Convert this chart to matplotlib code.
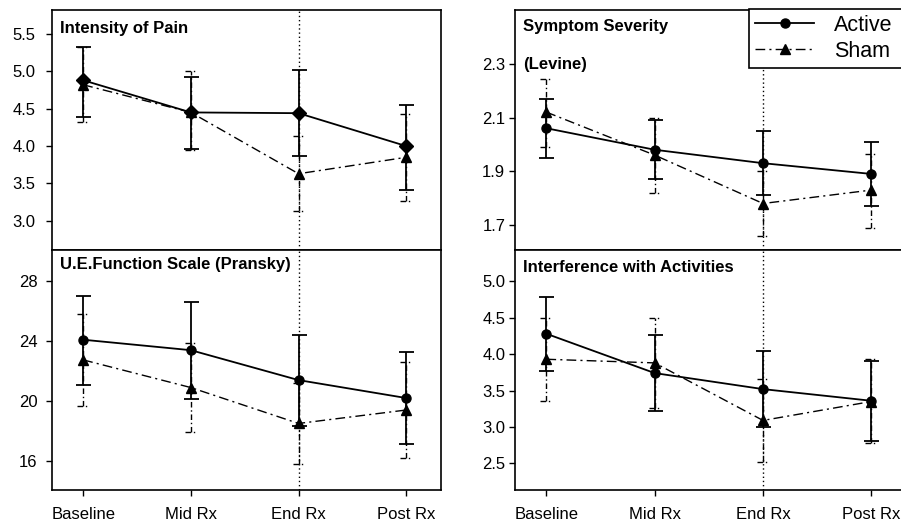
import numpy as np
import matplotlib
matplotlib.use("Agg")
import matplotlib.pyplot as plt
from matplotlib.lines import Line2D
from matplotlib.ticker import FormatStrFormatter, FixedLocator

plt.rcParams['font.family'] = ['Liberation Sans', 'DejaVu Sans']

categories = ["Baseline", "Mid Rx", "End Rx", "Post Rx"]

# Intensity of Pain
pain_active = [4.88, 4.45, 4.44, 4.00]
pain_active_lo = [4.39, 3.96, 3.87, 3.41]
pain_active_hi = [5.33, 4.93, 5.02, 4.55]
pain_sham = [4.82, 4.45, 3.63, 3.85]
pain_sham_lo = [4.32, 3.95, 3.13, 3.27]
pain_sham_hi = [5.32, 5.00, 4.13, 4.43]

# Symptom Severity (Levine)
sev_active = [2.06, 1.98, 1.93, 1.89]
sev_active_lo = [1.95, 1.87, 1.81, 1.77]
sev_active_hi = [2.17, 2.09, 2.05, 2.01]
sev_sham = [2.12, 1.96, 1.78, 1.83]
sev_sham_lo = [1.99, 1.82, 1.66, 1.69]
sev_sham_hi = [2.245, 2.10, 1.90, 1.965]

# U.E. Function Scale (Pransky)
func_active = [24.1, 23.4, 21.4, 20.2]
func_active_lo = [21.05, 20.15, 18.3, 17.1]
func_active_hi = [27.0, 26.6, 24.4, 23.25]
func_sham = [22.75, 20.9, 18.5, 19.4]
func_sham_lo = [19.7, 17.9, 15.8, 16.2]
func_sham_hi = [25.8, 23.9, 21.2, 22.6]

# Interference with Activities
intf_active = [4.28, 3.74, 3.52, 3.36]
intf_active_lo = [3.77, 3.22, 3.00, 2.81]
intf_active_hi = [4.78, 4.26, 4.04, 3.90]
intf_sham = [3.93, 3.88, 3.09, 3.35]
intf_sham_lo = [3.36, 3.26, 2.52, 2.78]
intf_sham_hi = [4.50, 4.50, 3.66, 3.93]

pain_ticks = [3.0, 3.5, 4.0, 4.5, 5.0, 5.5]
sev_ticks = [1.7, 1.9, 2.1, 2.3]
func_ticks = [16, 20, 24, 28]
intf_ticks = [2.5, 3.0, 3.5, 4.0, 4.5, 5.0]

W, H = 901, 523
fig = plt.figure(figsize=(W / 100, H / 100), dpi=100)

def fx(px):
    return px / W

def fy(py):
    return 1 - py / H

XL = (-0.29, 3.32)
ax_tl = fig.add_axes([fx(52), fy(250), fx(388.7), 240 / H])
ax_bl = fig.add_axes([fx(52), fy(490), fx(388.7), 240 / H])
ax_tr = fig.add_axes([fx(515), fy(250), fx(391), 240 / H])
ax_br = fig.add_axes([fx(515), fy(490), fx(391), 240 / H])

sham_ls = (0, (7, 3, 1.5, 3))
err_ls = (0, (4, 2, 1, 2))
x = np.arange(len(categories))


def draw(ax, act, alo, ahi, sh, slo, shi, ylim, yticks, fmt, act_marker, show_x, ypad):
    a = np.array(act)
    ax.errorbar(x, act, yerr=[a - np.array(alo), np.array(ahi) - a], fmt='none',
                ecolor='black', elinewidth=1.3, capsize=5.4, capthick=1.3, zorder=3)
    ax.vlines(x, slo, shi, colors='black', linewidth=1.0, linestyles=[err_ls], zorder=2)
    hw = 0.055
    ax.hlines(slo, x - hw, x + hw, colors='black', linewidth=1.0, linestyles=[err_ls], zorder=2)
    ax.hlines(shi, x - hw, x + hw, colors='black', linewidth=1.0, linestyles=[err_ls], zorder=2)
    ax.plot(x, act, color='black', lw=1.3, marker=act_marker,
            markersize=7.5 if act_marker == 'D' else 6.5, zorder=4)
    ax.plot(x, sh, color='black', lw=1.0, linestyle=sham_ls, marker='^', markersize=6.5, zorder=4)
    ax.axvline(2, color='black', lw=1.0, linestyle=(0, (1, 2)), zorder=1)
    ax.set_xlim(*XL)
    ax.set_ylim(*ylim)
    ax.yaxis.set_major_locator(FixedLocator(yticks))
    ax.yaxis.set_major_formatter(FormatStrFormatter(fmt))
    ax.tick_params(axis='y', direction='out', length=4, width=1.0, labelsize=12, pad=ypad)
    ax.set_xticks(x)
    if show_x:
        ax.set_xticklabels(categories)
        ax.tick_params(axis='x', direction='out', length=4, width=1.0, labelsize=12, pad=8)
    else:
        ax.tick_params(axis='x', length=0, labelbottom=False)
    for s in ax.spines.values():
        s.set_linewidth(1.2)


draw(ax_tl, pain_active, pain_active_lo, pain_active_hi, pain_sham, pain_sham_lo, pain_sham_hi,
     (2.61, 5.82), pain_ticks, '%.1f', 'D', False, 8)
draw(ax_bl, func_active, func_active_lo, func_active_hi, func_sham, func_sham_lo, func_sham_hi,
     (14.05, 30.1), func_ticks, '%d', 'o', True, 6.5)
draw(ax_tr, sev_active, sev_active_lo, sev_active_hi, sev_sham, sev_sham_lo, sev_sham_hi,
     (1.607, 2.50), sev_ticks, '%.1f', 'o', False, 3)
draw(ax_br, intf_active, intf_active_lo, intf_active_hi, intf_sham, intf_sham_lo, intf_sham_hi,
     (2.135, 5.43), intf_ticks, '%.1f', 'o', True, 3)

tkw = dict(fontsize=12, fontweight='bold', ha='left', va='center')
ax_tl.text(0.021, 1 - 18 / 240, "Intensity of Pain", transform=ax_tl.transAxes, **tkw)
ax_bl.text(0.021, 1 - 15 / 240, "U.E.Function Scale (Pransky)", transform=ax_bl.transAxes, **tkw)
ax_tr.text(0.021, 1 - 17 / 240, "Symptom Severity", transform=ax_tr.transAxes, **tkw)
ax_tr.text(0.021, 1 - 54 / 240, "(Levine)", transform=ax_tr.transAxes, **tkw)
ax_br.text(0.021, 1 - 18 / 240, "Interference with Activities", transform=ax_br.transAxes, **tkw)

handles = [Line2D([], [], color='black', lw=1.3, marker='o', markersize=6.5),
           Line2D([], [], color='black', lw=1.0, linestyle=sham_ls, marker='^', markersize=6.5)]
leg = ax_tr.legend(handles, ["Active", "Sham"], loc='upper left',
                   bbox_to_anchor=(fx(749), fy(68), fx(170), 59 / H),
                   bbox_transform=fig.transFigure, mode='expand',
                   borderaxespad=0, fontsize=15.5, handlelength=2.75, handletextpad=0.93,
                   labelspacing=0.22, borderpad=0.28, fancybox=False, framealpha=1,
                   edgecolor='black')
leg.get_frame().set_linewidth(1.2)
leg.set_zorder(10)

fig.savefig("out.png", dpi=100)
